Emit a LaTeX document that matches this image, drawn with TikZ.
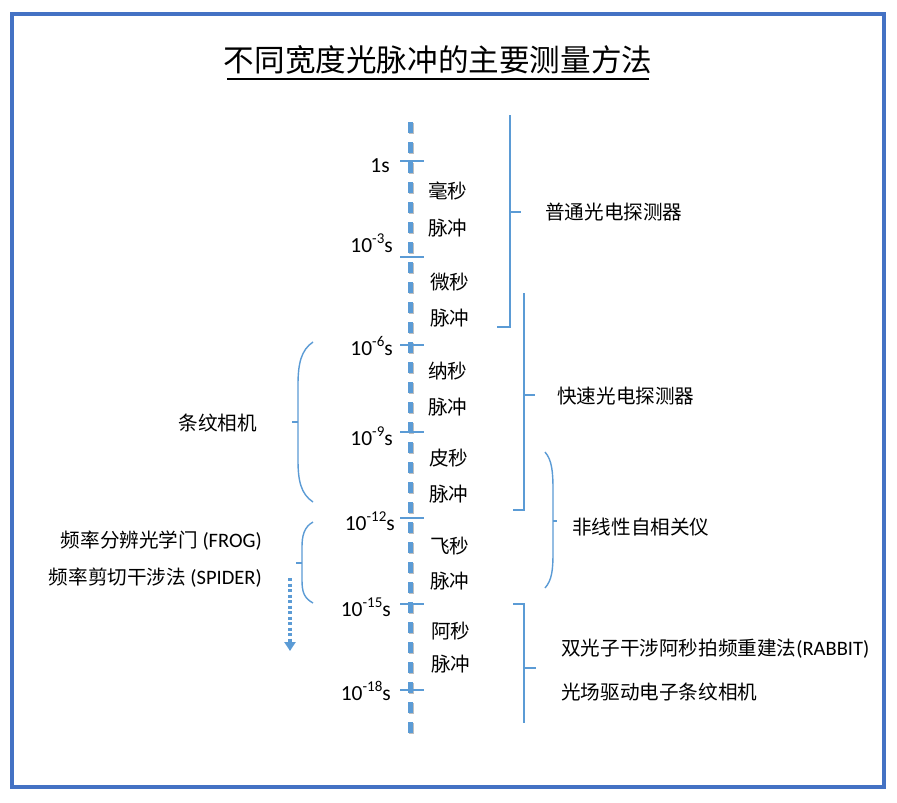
\documentclass[tikz,border=0pt]{standalone}
\usepackage{fontspec}
\setmainfont{Carlito}
\newfontfamily\cjk{Noto Sans CJK SC}
\usetikzlibrary{arrows.meta}
\definecolor{axblue}{RGB}{91,155,213}
\definecolor{frameblue}{RGB}{68,114,196}
\newcommand\myexp[1]{\raisebox{0.4em}{\fontsize{15}{15}\selectfont #1}}
\newcommand\latin[1]{{\rmfamily\fontsize{20.5}{21}\selectfont #1}}
\tikzset{
  frm/.style={draw=frameblue,line width=4pt},
  axisline/.style={draw=axblue,line width=5pt,dash pattern=on 11pt off 9pt},
  axshadow/.style={draw=black!25,line width=5pt,dash pattern=on 11pt off 9pt},
  tickmark/.style={draw=axblue,line width=1.5pt},
  brk/.style={draw=axblue,line width=1.4pt},
  tl/.style={anchor=east,inner sep=0pt,font=\fontsize{21.5}{23}\selectfont},
  txt/.style={inner sep=0pt,font=\cjk\fontsize{19.6}{21}\selectfont},
  titletxt/.style={inner sep=0pt,font=\cjk\fontsize{30.6}{33}\selectfont},
  dotarrow/.style={draw=axblue,line width=3.5pt,dash pattern=on 3pt off 2.5pt,-{Triangle[width=11pt,length=9pt]}}
}
\begin{document}
\begin{tikzpicture}[x=1pt,y=-1pt]
\useasboundingbox (0,0) rectangle (897,803);
\fill[white] (0,0) rectangle (897,803);
\draw[frm] (12,14) rectangle (883.5,786.5);
% title
\node[titletxt] (title) at (438,60) {不同宽度光脉冲的主要测量方法};
\draw[line width=1.2pt] (227,79) -- (649,79);
% axis
\coordinate (axtop) at (410,122);
\coordinate (axbot) at (410,740);
\coordinate (shtop) at (411,123);
\coordinate (shbot) at (411,741);
\draw[axshadow] (shtop) -- (shbot);
\draw[axisline] (axtop) -- (axbot);
% ticks
\foreach \n/\y in {a/161,b/257,c/345,d/432,e/518,f/604,g/690}{
  \coordinate (tL\n) at (400,\y);
  \coordinate (tR\n) at (424,\y);
  \draw[tickmark] (tL\n) -- (tR\n);
}
% tick labels
\node[tl] (l1) at (390,166) {1s};
\node[tl] (l2) at (393,243) {10\myexp{-3}s};
\node[tl] (l3) at (393,346) {10\myexp{-6}s};
\node[tl] (l4) at (393,436) {10\myexp{-9}s};
\node[tl] (l5) at (395,521) {10\myexp{-12}s};
\node[tl] (l6) at (391,607) {10\myexp{-15}s};
\node[tl] (l7) at (391,691) {10\myexp{-18}s};
% pulse labels
\node[txt,anchor=west] (p1a) at (428,191) {毫秒};
\node[txt,anchor=west] (p1b) at (428,228) {脉冲};
\node[txt,anchor=west] (p2a) at (430,282) {微秒};
\node[txt,anchor=west] (p2b) at (430,318) {脉冲};
\node[txt,anchor=west] (p3a) at (428,371) {纳秒};
\node[txt,anchor=west] (p3b) at (428,407) {脉冲};
\node[txt,anchor=west] (p4a) at (429,458) {皮秒};
\node[txt,anchor=west] (p4b) at (429,494) {脉冲};
\node[txt,anchor=west] (p5a) at (430,546) {飞秒};
\node[txt,anchor=west] (p5b) at (430,581) {脉冲};
\node[txt,anchor=west] (p6a) at (431,631) {阿秒};
\node[txt,anchor=west] (p6b) at (431,664) {脉冲};
% right brackets
\draw[brk] (510,115) -- (510,327) -- (497,327);
\draw[brk] (510,212) -- (521,212);
\node[txt,anchor=west] (r1) at (545,212) {普通光电探测器};
\draw[brk] (524,293) -- (524,510) -- (513,510);
\draw[brk] (524,395) -- (535,395);
\node[txt,anchor=west] (r2) at (557,396) {快速光电探测器};
\draw[brk] (545,452) .. controls (552,460) and (553,472) .. (553,490) -- (553,552) .. controls (553,570) and (552,580) .. (545,588);
\draw[brk] (553,521) -- (557,521);
\node[txt,anchor=west] (r3) at (572,527) {非线性自相关仪};
\draw[brk] (513,604) -- (524,604) -- (524,723);
\draw[brk] (524,668) -- (536,668);
\node[txt,anchor=west] (r4) at (561,649) {双光子干涉阿秒拍频重建法\latin{(RABBIT)}};
\node[txt,anchor=west] (r5) at (561,692) {光场驱动电子条纹相机};
% left braces
\draw[brk] (313,342) .. controls (301,350) and (298,364) .. (298,385) -- (298,460) .. controls (298,481) and (301,494) .. (313,502);
\draw[brk] (298,422) -- (292,422);
\node[txt,anchor=east] (s1) at (257,423) {条纹相机};
\draw[brk] (313,522) .. controls (304,527) and (302,536) .. (302,547) -- (302,580) .. controls (302,592) and (304,598) .. (313,603);
\draw[brk] (302,563) -- (296,563);
\node[txt,anchor=east] (s2) at (262,541) {频率分辨光学门 \latin{(FROG)}};
\node[txt,anchor=east] (s3) at (262,578) {频率剪切干涉法 \latin{(SPIDER)}};
% dotted arrow
\coordinate (da) at (290,578);
\coordinate (db) at (290,651);
\draw[dotarrow] (da) -- (db);
\end{tikzpicture}
\end{document}
